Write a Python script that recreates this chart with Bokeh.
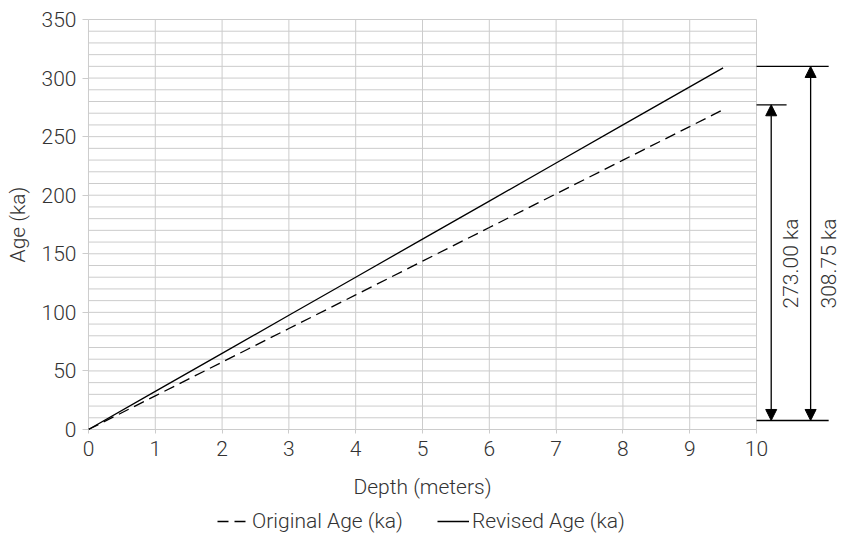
from bokeh.plotting import figure
from bokeh.models import FixedTicker, Legend, LegendItem, Arrow, NormalHead, Label, Range1d
from bokeh.embed import file_html
from bokeh.resources import INLINE

# ---- data ----
depth = [0, 1, 2, 3, 4, 5, 6, 7, 8, 9, 9.5]
original_age = [0, 28.7, 57.5, 86.2, 114.9, 143.7, 172.4, 201.2, 229.9, 258.6, 273.0]
revised_age = [0, 32.5, 65.0, 97.5, 130.0, 162.5, 195.0, 227.5, 260.0, 292.5, 308.75]

x_ticks = [0, 1, 2, 3, 4, 5, 6, 7, 8, 9, 10]
y_ticks = [0, 50, 100, 150, 200, 250, 300, 350]
y_minor = list(range(0, 351, 10))

# dimension brackets (drawn right of the plot)
bracket_labels = ["273.00 ka", "308.75 ka"]
bracket_top = [277.2, 309.9]
bracket_bottom = 7.7
bracket_arrow_x = [10.22, 10.81]
bracket_line_end = [10.45, 11.08]
bracket_text_x = [10.51, 11.08]
bracket_text_y = 141.7

FONT = "Roboto Light, Roboto"
FS = "21px"
TXT = "#333333"
GRID = "#cccccc"

# the frame covers the whole canvas; axes sit at fixed data locations
p = figure(width=847, height=540, output_backend="svg", toolbar_location=None,
           x_range=Range1d(-1.317, 11.362), y_range=Range1d(-94.76, 366.22),
           min_border=0)
p.outline_line_color = None
p.grid.grid_line_color = None
p.background_fill_color = "white"

# grid lines (limited to the data area)
p.segment(x0=x_ticks, y0=[0] * len(x_ticks), x1=x_ticks, y1=[350] * len(x_ticks),
          line_color=GRID, line_width=1)
p.segment(x0=[0] * len(y_minor), y0=y_minor, x1=[10] * len(y_minor), y1=y_minor,
          line_color=GRID, line_width=1)

# series
r_orig = p.line(depth, original_age, line_color="black", line_width=1.3, line_dash="11 6")
r_rev = p.line(depth, revised_age, line_color="black", line_width=1.3)

# axes
xa = p.xaxis[0]
xa.ticker = FixedTicker(ticks=x_ticks)
xa.fixed_location = 0
xa.bounds = (0, 10)
ya = p.yaxis[0]
ya.ticker = FixedTicker(ticks=y_ticks)
ya.fixed_location = 0
ya.bounds = (0, 350)
for ax in (xa, ya):
    ax.axis_line_color = None
    ax.major_tick_line_color = GRID
    ax.minor_tick_line_color = None
    ax.major_tick_in = 0
    ax.major_label_text_font = FONT
    ax.major_label_text_font_size = FS
    ax.major_label_text_color = TXT
    ax.axis_label_text_font = FONT
    ax.axis_label_text_font_size = FS
    ax.axis_label_text_font_style = "normal"
    ax.axis_label_text_color = TXT
xa.major_tick_out = 4
ya.major_tick_out = 6
xa.major_label_standoff = 8
ya.major_label_standoff = 6
xa.axis_label = "Depth (meters)"
ya.axis_label = "Age (ka)"
xa.axis_label_standoff = 15
ya.axis_label_standoff = 9

# brackets
p.segment(x0=[10, 10, 10], y0=[bracket_bottom, bracket_top[0], bracket_top[1]],
          x1=[bracket_line_end[1], bracket_line_end[0], bracket_line_end[1]],
          y1=[bracket_bottom, bracket_top[0], bracket_top[1]],
          line_color="black", line_width=1.3)
for i in range(2):
    p.add_layout(Arrow(x_start=bracket_arrow_x[i], y_start=bracket_bottom,
                       x_end=bracket_arrow_x[i], y_end=bracket_top[i],
                       line_color="black", line_width=1.3,
                       start=NormalHead(size=11, fill_color="black", line_color="black"),
                       end=NormalHead(size=11, fill_color="black", line_color="black")))
    p.add_layout(Label(x=bracket_text_x[i], y=bracket_text_y, text=bracket_labels[i],
                       angle=1.5708, text_align="center", text_baseline="middle",
                       text_font=FONT, text_font_size=FS, text_color=TXT))

legend = Legend(items=[LegendItem(label="Original Age (ka)", renderers=[r_orig]),
                       LegendItem(label="Revised Age (ka)", renderers=[r_rev])],
                orientation="horizontal", location=(217, 7),
                border_line_color=None, background_fill_alpha=0,
                label_text_font=FONT, label_text_font_size=FS, label_text_color=TXT,
                glyph_width=32, label_standoff=3, spacing=34, padding=0, margin=0)
p.add_layout(legend, "center")

open("out.html", "w").write(file_html(p, INLINE))
